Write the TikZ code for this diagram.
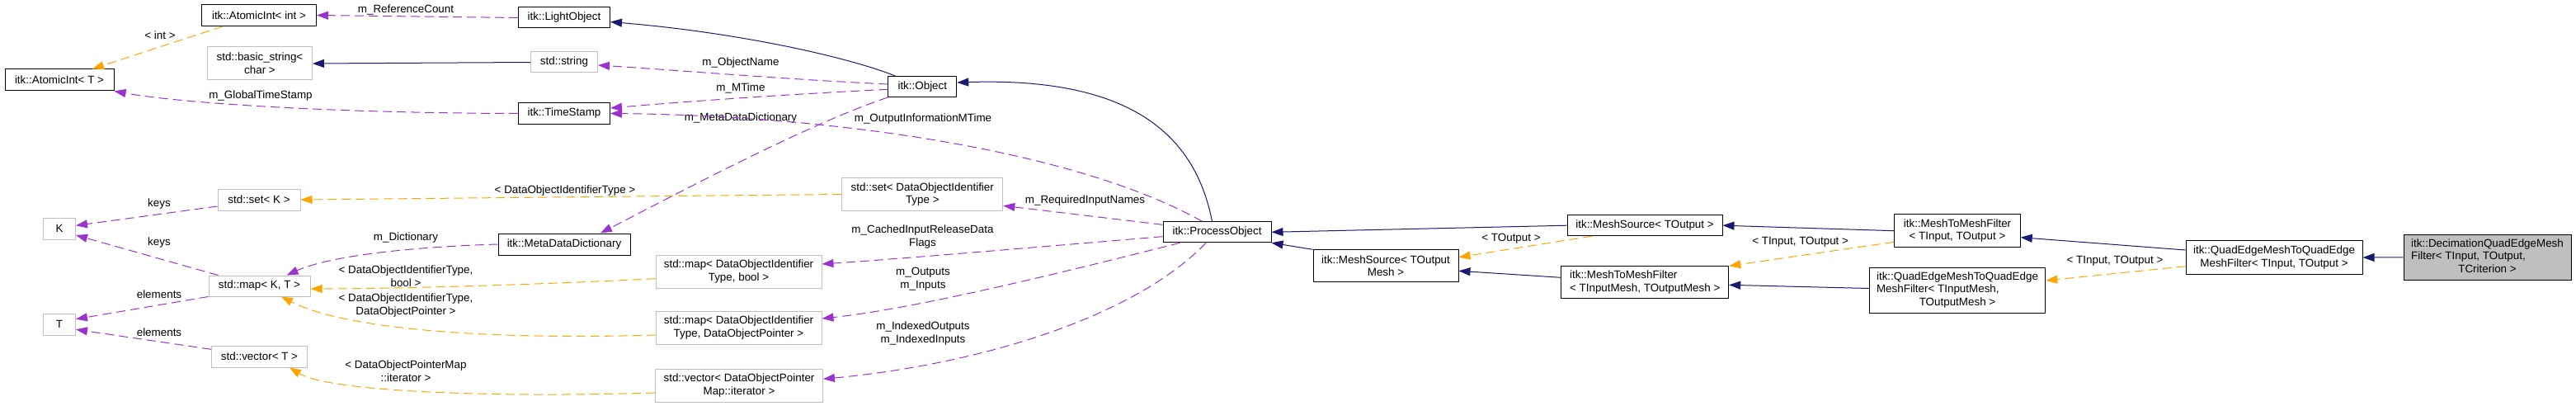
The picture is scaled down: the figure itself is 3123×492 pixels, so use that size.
\documentclass[tikz,border=0pt]{standalone}
\usepackage{fontspec}
\setmainfont{Liberation Sans}
\usetikzlibrary{arrows.meta}
\definecolor{inhblue}{HTML}{191970}
\definecolor{tplorange}{HTML}{FFA500}
\definecolor{mbrpurple}{HTML}{9A32CD}
\definecolor{extgray}{HTML}{BFBFBF}
\newcommand{\ctr}[1]{\multicolumn{1}{@{}c@{}}{#1}}
\tikzset{
  cls/.style={draw=black, line width=1pt, inner sep=1pt, align=center},
  ext/.style={cls, draw=extgray},
  sz/.style 2 args={minimum width=#1pt, minimum height=#2pt},
  lbl/.style={inner sep=0pt, align=center},
  tip/.style={-{Triangle[length=14pt, width=10pt]}},
  inh/.style={draw=inhblue, line width=1pt, tip},
  tpl/.style={draw=tplorange, line width=1pt, dash pattern=on 11pt off 6pt, tip},
  mbr/.style={draw=mbrpurple, line width=1pt, dash pattern=on 11pt off 6pt, tip}}

\begin{document}
\begin{tikzpicture}[x=1pt, y=-1pt, font=\fontsize{13.4}{15.6}\selectfont]
\useasboundingbox (0,0) rectangle (3123,492);
% classes, left column
\node[cls, sz={139}{26}] (aiInt) at (314,18.5) {itk::AtomicInt< int >};
\node[ext, sz={127}{40}] (basicStr) at (315,77) {std::basic\_string<\\char >};
\node[cls, sz={132}{26}] (aiT) at (72,97) {itk::AtomicInt< T >};
\node[ext, sz={100}{26}] (setK) at (314,242) {std::set< K >};
\node[ext, sz={39}{26}] (K) at (72,277) {K};
\node[ext, sz={123}{25}] (mapKT) at (314.5,346.5) {std::map< K, T >};
\node[ext, sz={39}{26}] (T) at (72,393) {T};
\node[ext, sz={116}{26}] (vecT) at (314.5,432) {std::vector< T >};
% middle
\node[cls, sz={111}{25}] (light) at (684,21.5) {itk::LightObject};
\node[ext, sz={81}{25}] (str) at (684,75.5) {std::string};
\node[cls, sz={111}{25}] (stamp) at (684,137.5) {itk::TimeStamp};
\node[cls, sz={160}{26}] (mdd) at (684,296) {itk::MetaDataDictionary};
\node[ext, sz={201}{40}] (mapBool) at (895.5,329) {std::map< DataObjectIdentifier\\Type, bool >};
\node[ext, sz={201}{40}] (mapPtr) at (895.5,397) {std::map< DataObjectIdentifier\\Type, DataObjectPointer >};
\node[ext, sz={203}{40}] (vecIt) at (896,467) {std::vector< DataObjectPointer\\Map::iterator >};
\node[cls, sz={83}{25}] (obj) at (1118.3,105) {itk::Object};
\node[ext, sz={195}{40}] (setDOI) at (1118.3,235.5) {std::set< DataObjectIdentifier\\Type >};
\node[cls, sz={131}{25}] (PO) at (1475.5,281.3) {itk::ProcessObject};
% right
\node[cls, sz={176}{39}] (msMesh) at (1680,322.3) {itk::MeshSource< TOutput\\Mesh >};
\node[cls, sz={188}{25}] (msOut) at (1994,273.2) {itk::MeshSource< TOutput >};
\node[cls, sz={203}{39}, align=left] (m2mMesh) at (1994.2,342.3) {itk::MeshToMeshFilter\\< TInputMesh, TOutputMesh >};
\node[cls, sz={152.5}{40}] (m2mIO) at (2373,279.7) {itk::MeshToMeshFilter\\< TInput, TOutput >};
\node[cls, sz={213.5}{55}] (qeMesh) at (2373,351.5)
  {\begin{tabular}{@{}l@{}}itk::QuadEdgeMeshToQuadEdge\\MeshFilter< TInputMesh,\\\ctr{TOutputMesh >}\end{tabular}};
\node[cls, sz={214}{40.6}] (qeIO) at (2757,312) {itk::QuadEdgeMeshToQuadEdge\\MeshFilter< TInput, TOutput >};
\node[cls, fill=extgray, sz={203}{55}] (dec) at (3015.5,311.8)
  {\begin{tabular}{@{}l@{}}itk::DecimationQuadEdgeMesh\\Filter< TInput, TOutput,\\\ctr{TCriterion >}\end{tabular}};

% inheritance
\draw[inh] ([xshift=-6pt]PO.north) .. controls (1450,170) and (1380,93) .. ([yshift=5pt]obj.east);
\draw[inh] ([xshift=-33pt]obj.north) .. controls (1030,70) and (900,40) .. ([yshift=-5pt]light.east);
\draw[inh] (str.west) -- (basicStr.east);
\draw[inh] (msOut.west) -- (PO.east);
\draw[inh] (msMesh.north west) -- (PO.south east);
\draw[inh] ([yshift=6pt]m2mMesh.west) -- ([yshift=-6pt]msMesh.east);
\draw[inh] (m2mIO.west) -- (msOut.east);
\draw[inh] ([yshift=2pt]qeMesh.west) -- ([yshift=-3pt]m2mMesh.east);
\draw[inh] ([yshift=9pt]qeIO.west) -- ([yshift=-8pt]m2mIO.east);
\draw[inh] (dec.west) -- (qeIO.east);

% template arguments
\draw[tpl] ([xshift=-44pt]aiInt.south) -- ([xshift=40pt]aiT.north);
\node[lbl] (lInt) at (194,43) {< int >};
\draw[tpl] ([xshift=-64pt]msOut.south) -- ([yshift=10.6pt]msMesh.east);
\node[lbl] (lTOut) at (1832,289) {< TOutput >};
\draw[tpl] ([yshift=-13.6pt]m2mIO.west) -- (m2mMesh.north east);
\node[lbl] (lM2m) at (2182.6,293) {< TInput, TOutput >};
\draw[tpl] ([yshift=-10.7pt]qeIO.west) -- ([yshift=11.5pt]qeMesh.east);
\node[lbl] (lQe) at (2564,316.7) {< TInput, TOutput >};
\draw[tpl] (setDOI.west) -- (setK.east);
\node[lbl] (lSet) at (685,231) {< DataObjectIdentifierType >};
\draw[tpl] ([yshift=-8.7pt]mapBool.west) .. controls (650,345) and (480,350) .. ([yshift=-3.5pt]mapKT.east);
\node[lbl] (lMapBool) at (492,335) {< DataObjectIdentifierType,\\bool >};
\draw[tpl] ([yshift=-9pt]mapPtr.west) .. controls (600,412) and (420,400) .. ([xshift=26.5pt]mapKT.south);
\node[lbl] (lMapPtr) at (492,370) {< DataObjectIdentifierType,\\DataObjectPointer >};
\draw[tpl] ([yshift=-9pt]vecIt.west) .. controls (600,482) and (400,475) .. ([xshift=36.5pt]vecT.south);
\node[lbl] (lVecIt) at (492,450) {< DataObjectPointerMap\\::iterator >};

% members
\draw[mbr] (light.west) -- (aiInt.east);
\node[lbl] (lRef) at (492,12) {m\_ReferenceCount};
\draw[mbr] (stamp.west) .. controls (400,137) and (220,125) .. (aiT.south east);
\node[lbl] (lGlobal) at (316,116) {m\_GlobalTimeStamp};
\draw[mbr] ([yshift=3pt]obj.west) .. controls (950,96) and (820,85) .. ([yshift=-3.5pt]str.east);
\node[lbl] (lName) at (898,76) {m\_ObjectName};
\draw[mbr] ([yshift=-3.3pt]obj.west) .. controls (960,114) and (830,123) .. ([yshift=6.5pt]stamp.east);
\node[lbl] (lMTime) at (898,107) {m\_MTime};
\draw[mbr] (obj.south west) .. controls (980,150) and (820,235) .. ([xshift=44pt]mdd.north);
\node[lbl] (lMdd) at (898,143) {m\_MetaDataDictionary};
\draw[mbr] ([xshift=-18pt]PO.north) .. controls (1300,180) and (1000,140) .. (stamp.east);
\node[lbl] (lOutInfo) at (1119,144) {m\_OutputInformationMTime};
\draw[mbr] (mdd.west) .. controls (500,299) and (400,310) .. ([xshift=33pt]mapKT.north);
\node[lbl] (lDict) at (492,288) {m\_Dictionary};
\draw[mbr] ([yshift=-8pt]setK.west) -- ([yshift=3.7pt]K.east);
\node[lbl] (lKeys1) at (193,247) {keys};
\draw[mbr] ([xshift=12pt]mapKT.north west) -- ([yshift=-8pt]K.east);
\node[lbl] (lKeys2) at (193,294) {keys};
\draw[mbr] (mapKT.south west) -- ([yshift=6.3pt]T.east);
\node[lbl] (lElem1) at (193,357) {elements};
\draw[mbr] ([yshift=8.7pt]vecT.west) -- ([yshift=-6.3pt]T.east);
\node[lbl] (lElem2) at (193,403) {elements};
\draw[mbr] ([yshift=9pt]PO.west) -- ([yshift=-13.8pt]setDOI.east);
\node[lbl] (lReq) at (1315.5,242.7) {m\_RequiredInputNames};
\draw[mbr] ([yshift=-5.4pt]PO.west) .. controls (1250,300) and (1100,313) .. ([yshift=9pt]mapBool.east);
\node[lbl] (lCached) at (1118.5,287) {m\_CachedInputReleaseData\\Flags};
\draw[mbr] ([xshift=-45pt]PO.south) .. controls (1250,340) and (1100,375) .. ([yshift=11pt]mapPtr.east);
\node[lbl] (lInOut) at (1119,338) {m\_Outputs\\m\_Inputs};
\draw[mbr] ([xshift=-13.5pt]PO.south) .. controls (1380,380) and (1200,440) .. ([yshift=7.7pt]vecIt.east);
\node[lbl] (lIdx) at (1119,404) {m\_IndexedOutputs\\m\_IndexedInputs};
\end{tikzpicture}
\end{document}
